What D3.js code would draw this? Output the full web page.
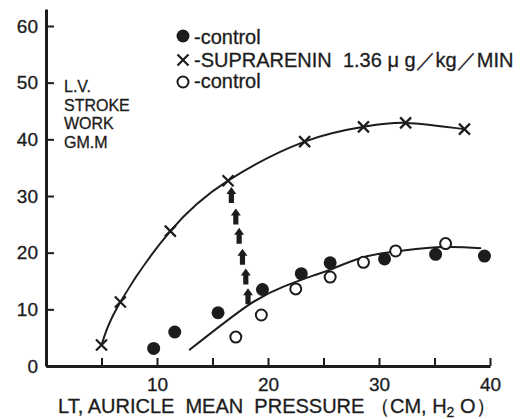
<!DOCTYPE html>
<html>
<head>
<meta charset="utf-8">
<script src="https://cdn.jsdelivr.net/npm/d3@7"></script>
<style>
  body { margin: 0; background: #fff; }
  text { font-family: "Liberation Sans", Arial, sans-serif; fill: #1c1c1c; stroke: #1c1c1c; stroke-width: 0.3px; }
</style>
</head>
<body>
<script>
// tick values
var xTicks = [5, 10, 15, 20, 25, 30, 35, 40];
var yTicks = [0, 10, 20, 30, 40, 50, 60];

// x - SUPRARENIN points (the upper curve is drawn through them)
var crossX = [5.0, 6.7, 11.2, 16.4, 23.3, 28.6, 32.4, 37.7];
var crossY = [3.7, 11.3, 23.8, 32.7, 39.6, 42.2, 42.9, 41.8];

// filled circles - control
var filledX = [9.7, 11.6, 15.5, 19.5, 23.0, 25.6, 30.5, 35.1, 39.5];
var filledY = [3.1, 6.0, 9.4, 13.5, 16.3, 18.2, 18.9, 19.7, 19.4];

// open circles - control
var openX = [17.1, 19.4, 22.5, 25.6, 28.6, 31.5, 36.0];
var openY = [5.1, 9.0, 13.6, 15.7, 18.3, 20.3, 21.6];

// hand fitted curve through the control points
var lowerCurveX = [12.9, 18.2, 21.4, 24.0, 25.6, 28.6, 32.2, 35.9, 39.2];
var lowerCurveY = [2.8, 10.7, 14.0, 15.9, 17.0, 19.2, 20.4, 21.0, 20.8];

// arrow tips (pointing up from the lower curve to the upper one)
var arrowX = [16.7, 17.1, 17.4, 17.7, 18.0, 18.2];
var arrowY = [31.6, 27.8, 24.4, 20.7, 17.2, 13.7];

var width = 524, height = 419;
var ink = "#1c1c1c";

var svg = d3.select("body").append("svg")
    .attr("width", width)
    .attr("height", height);

svg.append("rect")
    .attr("width", width)
    .attr("height", height)
    .attr("fill", "#ffffff");

var x = d3.scaleLinear().domain([0, 40]).range([46, 490]);
var y = d3.scaleLinear().domain([0, 63]).range([366, 9]);

// x axis, ticks pointing up into the plot
var xAxis = svg.append("g")
    .attr("transform", "translate(0," + y(0) + ")")
    .call(d3.axisBottom(x)
      .tickValues(xTicks)
      .tickSizeInner(-8)
      .tickSizeOuter(0)
      .tickPadding(12)
      .tickFormat(function(d) { return d % 10 === 0 ? d : ""; }));

// y axis, ticks pointing right
var yAxis = svg.append("g")
    .attr("transform", "translate(" + x(0) + ",0)")
    .call(d3.axisLeft(y)
      .tickValues(yTicks)
      .tickSizeInner(-8)
      .tickSizeOuter(0)
      .tickPadding(8));

[xAxis, yAxis].forEach(function(g) {
  g.select(".domain").attr("stroke", ink).attr("stroke-width", 3);
  g.selectAll(".tick line").attr("stroke", ink).attr("stroke-width", 2);
  g.selectAll(".tick text")
      .attr("fill", ink)
      .attr("font-family", "Liberation Sans, Arial, sans-serif")
      .attr("font-size", "19px");
});

// y label, stacked
var yLabel = ["L.V.", "STROKE", "WORK", "GM.M"];
svg.append("g").selectAll("text")
    .data(yLabel)
  .enter().append("text")
    .attr("x", 64)
    .attr("y", function(d, i) { return 92 + i * 18.6; })
    .attr("font-size", "16px")
    .text(function(d) { return d; });

// x label
var xl = svg.append("text")
    .attr("x", 58)
    .attr("y", 413)
    .attr("font-size", "20px")
    .style("white-space", "pre");
xl.append("tspan").text("LT, AURICLE  MEAN  PRESSURE \uFF08CM, H");
xl.append("tspan").attr("font-size", "14px").attr("dy", 4).text("2");
xl.append("tspan").attr("dy", -4).text(" O\uFF09");

// curves
var line = d3.line()
    .x(function(d) { return x(d[0]); })
    .y(function(d) { return y(d[1]); })
    .curve(d3.curveNatural);

svg.append("path")
    .datum(d3.zip(crossX, crossY))
    .attr("d", line)
    .attr("fill", "none")
    .attr("stroke", ink)
    .attr("stroke-width", 2);

svg.append("path")
    .datum(d3.zip(lowerCurveX, lowerCurveY))
    .attr("d", line)
    .attr("fill", "none")
    .attr("stroke", ink)
    .attr("stroke-width", 2);

// arrows
svg.append("g").selectAll("path")
    .data(d3.zip(arrowX, arrowY))
  .enter().append("path")
    .attr("transform", function(d) { return "translate(" + x(d[0]) + "," + y(d[1]) + ")"; })
    .attr("d", "M0,0L5,7L2.6,7L2.6,16L-2.6,16L-2.6,7L-5,7Z")
    .attr("fill", ink);

// markers
function cross(g, cx, cy, s) {
  g.append("path")
      .attr("d", "M" + (cx - s) + "," + (cy - s) + "L" + (cx + s) + "," + (cy + s) +
                 "M" + (cx - s) + "," + (cy + s) + "L" + (cx + s) + "," + (cy - s))
      .attr("stroke", ink)
      .attr("stroke-width", 2.2)
      .attr("fill", "none");
}

var crosses = svg.append("g");
d3.zip(crossX, crossY).forEach(function(d) {
  cross(crosses, x(d[0]), y(d[1]), 5.5);
});

svg.append("g").selectAll("circle")
    .data(d3.zip(filledX, filledY))
  .enter().append("circle")
    .attr("cx", function(d) { return x(d[0]); })
    .attr("cy", function(d) { return y(d[1]); })
    .attr("r", 6.5)
    .attr("fill", ink);

svg.append("g").selectAll("circle")
    .data(d3.zip(openX, openY))
  .enter().append("circle")
    .attr("cx", function(d) { return x(d[0]); })
    .attr("cy", function(d) { return y(d[1]); })
    .attr("r", 5.5)
    .attr("fill", "#fff")
    .attr("stroke", ink)
    .attr("stroke-width", 2);

// legend
var leg = svg.append("g");
leg.append("circle").attr("cx", 183).attr("cy", 36).attr("r", 6.5).attr("fill", ink);
cross(leg, 183, 60, 5.5);
leg.append("circle").attr("cx", 183).attr("cy", 82).attr("r", 5.5)
    .attr("fill", "#fff").attr("stroke", ink).attr("stroke-width", 2);

var legendText = ["-control", "-SUPRARENIN  1.36 \u03BC g\uFF0Fkg\uFF0FMIN", "-control"];
leg.selectAll("text")
    .data(legendText)
  .enter().append("text")
    .attr("x", 194)
    .attr("y", function(d, i) { return [43.5, 66.5, 87.5][i]; })
    .attr("font-size", "20px")
    .style("white-space", "pre")
    .text(function(d) { return d; });
</script>
</body>
</html>
